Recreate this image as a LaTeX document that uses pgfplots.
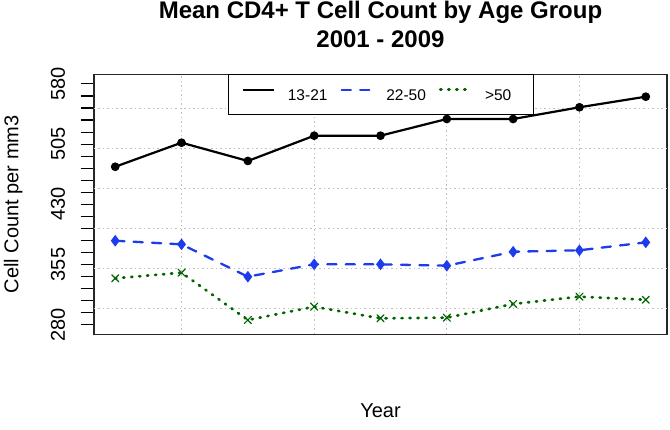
\documentclass[border=0pt]{standalone}
\usepackage{fontspec}
\setmainfont{Liberation Sans}
\usepackage{pgfplots}
\pgfplotsset{compat=1.18}
\definecolor{cblue}{RGB}{30,60,235}
\definecolor{cgreen}{RGB}{0,100,0}
\begin{document}
\begin{tikzpicture}
\path[use as bounding box] (0pt,0pt) rectangle (670pt,-429pt);
\begin{axis}[
  at={(94pt,-334.3pt)}, anchor=south west,
  scale only axis, width=573pt, height=260pt,
  xmin=0.68, xmax=9.32, ymin=268, ymax=592,
  clip=false,
  axis line style={black!85, line width=1.2pt},
  xtick={2,4,6,8}, xticklabels={}, xmajorgrids,
  xtick style={draw=none},
  ytick pos=left,
  ytick={280,355,430,505,580},
  minor ytick={295,310,325,340,370,385,400,415,445,460,475,490,520,535,550,565},
  extra y ticks={300,350,400,450,500,550},
  extra y tick labels={},
  extra y tick style={grid=major, tick style={draw=none}},
  major grid style={gray!50, line width=0.9pt, dash pattern=on 1.5pt off 3pt},
  tick align=outside, major tick length=13pt, minor tick length=13pt,
  ytick style={black, line width=1.1pt},
  /pgf/number format/assume math mode=true,
  yticklabel style={rotate=90, anchor=base, inner sep=0pt, font=\fontsize{20}{24}\selectfont},
  yticklabel shift=16pt,
  xlabel={Year}, ylabel={Cell Count per mm3},
  every axis x label/.style={at={(axis description cs:0.5,0)}, anchor=base, yshift=-83pt, font=\fontsize{20}{24}\selectfont},
  every axis y label/.style={at={(axis description cs:-0.1321,0.5)}, rotate=90, anchor=base, font=\fontsize{20}{24}\selectfont},
  legend columns=3,
  legend style={at={(axis description cs:0.2344,1)}, anchor=north west, draw=black, line width=1.1pt,
    inner xsep=13.4pt, inner ysep=13.6pt, font=\fontsize{15.5}{18}\selectfont,
    nodes={inner sep=0pt, text width=41pt, align=left, text height=11.1pt, text depth=0pt},
    /tikz/every odd column/.append style={column sep=12.4pt},
    /tikz/every even column/.append style={column sep=11.7pt}},
  legend image code/.code={\draw[#1] (0pt,5.5pt) -- (31pt,5.5pt);},
]
\addplot[black, line width=2.2pt, mark=*, mark size=3.2pt, mark options={solid}]
  coordinates {(1,476.8) (2,506.8) (3,484) (4,515.5) (5,515.5) (6,536.3) (7,536.3) (8,550.9) (9,564.1)};
\addlegendentry{13-21}
\addplot[cblue, line width=2.3pt, dash pattern=on 9.2pt off 9.2pt, line cap=round, mark=diamond*, mark size=4pt, mark options={solid}]
  coordinates {(1,384.6) (2,380.1) (3,339.8) (4,355.2) (5,355.2) (6,353.5) (7,370.9) (8,372.7) (9,382.6)};
\addlegendentry{22-50}
\addplot[cgreen, line width=2.7pt, dash pattern=on 1.2pt off 6.8pt, line cap=round, mark=x, mark size=5pt, mark options={solid, line width=1.2pt}]
  coordinates {(1,337.8) (2,344.8) (3,285.8) (4,302.4) (5,287.9) (6,288.7) (7,305.8) (8,314.9) (9,311.1)};
\addlegendentry[text width=35pt]{>50}
\node[anchor=base, yshift=56pt, font=\bfseries\fontsize{24}{29}\selectfont] at (axis description cs:0.5,1) {Mean CD4+ T Cell Count by Age Group};
\node[anchor=base, yshift=26.6pt, font=\bfseries\fontsize{24}{29}\selectfont] at (axis description cs:0.5,1) {2001 - 2009};
\end{axis}
\end{tikzpicture}
\end{document}
